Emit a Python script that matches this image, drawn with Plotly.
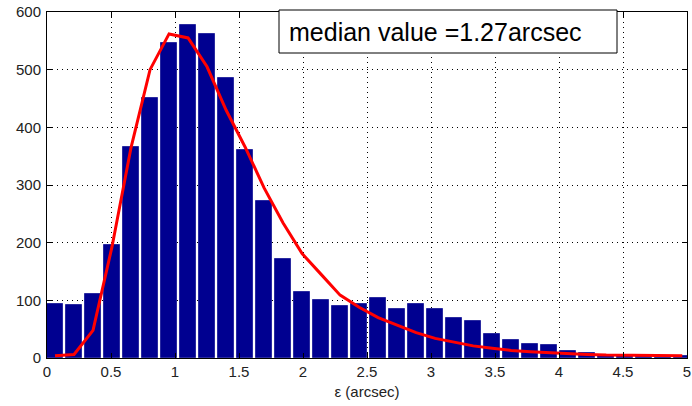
import plotly.graph_objects as go

# histogram bin centres (arcsec)
bin_centers = [0.0625, 0.211, 0.3595, 0.508, 0.6565, 0.805, 0.9535, 1.102, 1.2505, 1.399,
               1.5475, 1.696, 1.8445, 1.993, 2.1415, 2.29, 2.4385, 2.587, 2.7355, 2.884,
               3.0325, 3.181, 3.3295, 3.478, 3.6265, 3.775, 3.9235, 4.072, 4.2205, 4.369,
               4.5175, 4.666, 4.8145, 4.963]

# counts per bin
counts = [94, 92, 111, 196, 366, 451, 547, 578, 561, 486,
          360, 273, 171, 114, 101, 90, 94, 104, 85, 94,
          85, 69, 65, 42, 31, 24, 22, 12, 8, 6,
          6, 5, 4, 3]

# fitted curve evaluated at the bin centres
fit_values = [4, 6, 48, 193, 365, 500, 562, 555, 505, 430,
              366, 295, 234, 181, 145, 109, 88, 70, 57, 44,
              34, 27, 21, 17, 13, 11, 9, 8, 6, 5,
              5, 4, 4, 4]

x_ticks = [0, 0.5, 1, 1.5, 2, 2.5, 3, 3.5, 4, 4.5, 5]
x_tick_text = ['0', '0.5', '1', '1.5', '2', '2.5', '3', '3.5', '4', '4.5', '5']
y_ticks = [0, 100, 200, 300, 400, 500, 600]

median_label = 'median value =1.27arcsec'

font_family = 'Arial, Liberation Sans, sans-serif'

bars = go.Bar(
    x=bin_centers,
    y=counts,
    width=0.122,
    marker_color='#000090',
    marker_line_color='#2a2aa0',
    marker_line_width=1,
    showlegend=False)

fit_line = go.Scatter(
    x=bin_centers,
    y=fit_values,
    mode='lines',
    line=dict(color='#ff0000', width=3),
    showlegend=False)

fig = go.Figure([bars, fit_line])

axis_style = dict(
    automargin=False,
    showline=True,
    linecolor='black',
    linewidth=1,
    mirror='ticks',
    ticks='inside',
    ticklen=5,
    tickcolor='black',
    showgrid=True,
    gridcolor='black',
    gridwidth=1,
    griddash='1px,4px',
    zeroline=False,
    ticklabeloverflow='allow',
    tickfont=dict(family=font_family, size=15, color='#222222'),
)

fig.update_xaxes(
    range=[0, 5],
    tickvals=x_ticks,
    ticktext=x_tick_text,
    title=dict(text='ε (arcsec)', font=dict(family=font_family, size=15, color='#222222'), standoff=7),
    **axis_style)

fig.update_yaxes(
    range=[0, 600],
    tickvals=y_ticks,
    ticklabelstandoff=2,
    **axis_style)

# text box with the median value
fig.add_shape(
    type='rect', xref='paper', yref='paper',
    x0=(279 - 47) / 640, x1=(617 - 47) / 640,
    y0=(358 - 53) / 346, y1=(358 - 10) / 346,
    line=dict(color='black', width=1),
    fillcolor='white', layer='above')

fig.add_annotation(
    xref='paper', yref='paper',
    x=(287 - 47) / 640, y=(358 - 32) / 346,
    xanchor='left', yanchor='middle',
    text=median_label,
    showarrow=False,
    font=dict(family=font_family, size=25, color='black'))

fig.update_layout(
    width=692, height=406,
    margin=dict(l=47, r=5, t=12, b=48),
    plot_bgcolor='white',
    paper_bgcolor='white',
    bargap=0,
)

# drop the browser's default 8px body margin so the figure sits at the page corner
fig.write_html('out.html', config={'displayModeBar': False},
               post_script="document.body.style.margin='0';")
